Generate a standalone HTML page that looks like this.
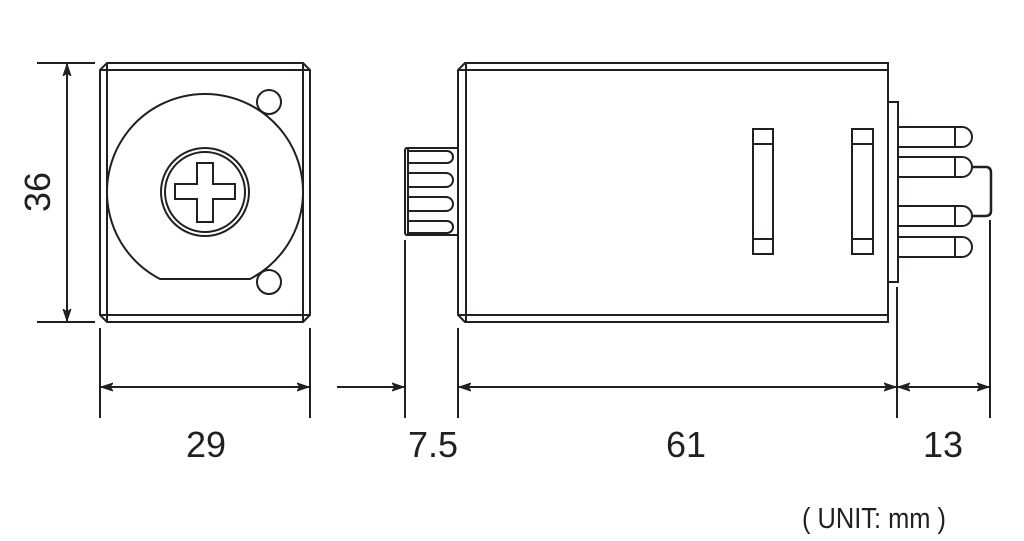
<!DOCTYPE html>
<html><head><meta charset="utf-8"><style>html,body{margin:0;padding:0;background:#fff}svg{display:block}</style></head>
<body>
<svg width="1024" height="541" viewBox="0 0 1024 541" xmlns="http://www.w3.org/2000/svg" font-family="Liberation Sans, sans-serif" fill="none" stroke="#231f20" stroke-width="2">
<defs>
<marker id="a" viewBox="0 0 12 10" refX="12" refY="5" markerWidth="12" markerHeight="10" markerUnits="userSpaceOnUse" orient="auto-start-reverse"><path d="M0,1 L12,5 L0,9 L3,5 Z" fill="#231f20" stroke="#231f20" stroke-width="1"/></marker>
</defs>
<!-- front view -->
<path d="M100,70 L107,63 L303,63 L310,70 L310,315 L303,322 L107,322 L100,315 Z"/>
<line x1="107" y1="63" x2="107" y2="322"/><line x1="303" y1="63" x2="303" y2="322"/>
<line x1="100" y1="70" x2="310" y2="70"/><line x1="100" y1="315" x2="310" y2="315"/>
<path d="M160,279 L250,279 A98,98 0 1 0 160,279 Z"/>
<circle cx="269" cy="102" r="12" fill="#fff"/>
<circle cx="269" cy="282" r="12" fill="#fff"/>
<circle cx="205" cy="192" r="44"/><circle cx="205" cy="192" r="40"/>
<path d="M197,163 H213 V184 H235 V199 H213 V222 H197 V199 H175 V184 H197 Z"/>
<!-- side view body -->
<path d="M458,70 L465,63 L888,63 L888,322 L465,322 L458,315 Z"/>
<line x1="466" y1="63" x2="466" y2="322"/>
<line x1="458" y1="70" x2="888" y2="70"/><line x1="458" y1="315" x2="888" y2="315"/>
<!-- knob -->
<path d="M458,148 H407 Q405,148 405,151 V232 Q405,235 407,235 H458"/>
<line x1="408" y1="148" x2="408" y2="235"/>
<path d="M408,151 H447 A6,6 0 0 1 447,163 H408"/>
<path d="M408,173 H446 A7,7 0 0 1 446,187 H408"/>
<path d="M408,197 H446 A7,7 0 0 1 446,211 H408"/>
<path d="M408,221 H447 A6,6 0 0 1 447,233 H408"/>
<!-- windows -->
<rect x="753" y="129" width="20" height="125"/><line x1="753" y1="144" x2="773" y2="144"/><line x1="753" y1="239" x2="773" y2="239"/>
<rect x="852" y="129" width="21" height="125"/><line x1="852" y1="144" x2="873" y2="144"/><line x1="852" y1="239" x2="873" y2="239"/>
<!-- flange -->
<rect x="888" y="102" width="10" height="180"/>
<!-- pins -->
<path d="M898,127 H962 A10,10 0 0 1 962,147 H898"/><line x1="955" y1="127" x2="955" y2="147"/>
<path d="M898,157 H962 A10,10 0 0 1 962,177 H898"/><line x1="955" y1="157" x2="955" y2="177"/>
<path d="M898,206 H962 A10,10 0 0 1 962,226 H898"/><line x1="955" y1="206" x2="955" y2="226"/>
<path d="M898,237 H962 A10,10 0 0 1 962,257 H898"/><line x1="955" y1="237" x2="955" y2="257"/>
<path d="M972,167 H986 Q991,167 991,173 V211 Q991,216 985,216 H972" stroke-width="2.5"/>
<!-- dimensions -->
<line x1="37" y1="63" x2="95" y2="63"/><line x1="37" y1="322" x2="95" y2="322"/>
<line x1="67" y1="64" x2="67" y2="321" marker-start="url(#a)" marker-end="url(#a)"/>
<line x1="100" y1="328" x2="100" y2="418"/><line x1="310" y1="328" x2="310" y2="418"/>
<line x1="101" y1="387" x2="309" y2="387" marker-start="url(#a)" marker-end="url(#a)"/>
<line x1="405" y1="240" x2="405" y2="418"/><line x1="458" y1="328" x2="458" y2="418"/>
<line x1="337" y1="387" x2="404" y2="387" marker-end="url(#a)"/>
<line x1="459" y1="387" x2="896" y2="387" marker-start="url(#a)" marker-end="url(#a)"/>
<line x1="897" y1="287" x2="897" y2="418"/><line x1="990" y1="220" x2="990" y2="418"/>
<line x1="898" y1="387" x2="989" y2="387" marker-start="url(#a)" marker-end="url(#a)"/>
<g fill="#231f20" stroke="none" font-size="36" text-anchor="middle">
<text transform="translate(50,192) rotate(-90)">36</text>
<text x="206" y="457">29</text>
<text x="433" y="457">7.5</text>
<text x="686" y="457">61</text>
<text x="943" y="457">13</text>
<text x="874" y="528" font-size="29" textLength="144" lengthAdjust="spacingAndGlyphs">( UNIT: mm )</text>
</g>
</svg>
</body></html>
